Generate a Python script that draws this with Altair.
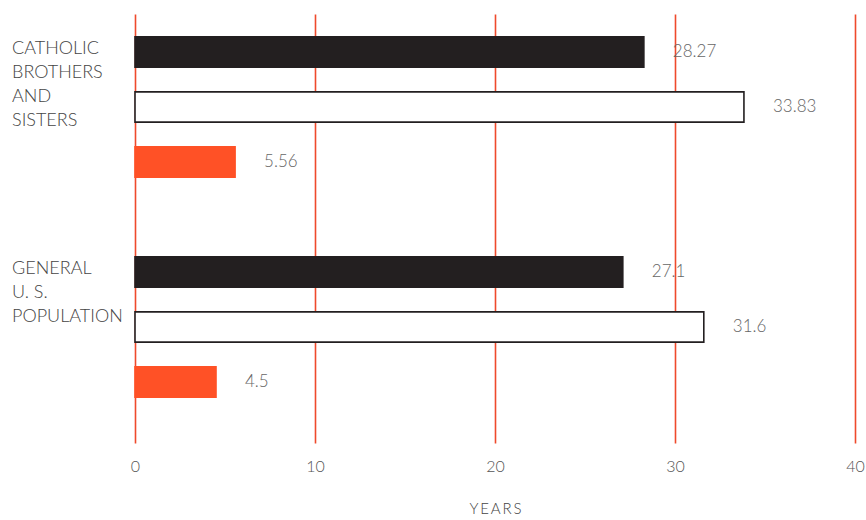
import altair as alt
import pandas as pd

groups = ["CATHOLIC BROTHERS AND SISTERS", "GENERAL U. S. POPULATION"]
group_text = ["CATHOLIC\nBROTHERS\nAND\nSISTERS", "GENERAL\nU. S.\nPOPULATION"]
black_vals = [28.27, 27.1]
white_vals = [33.83, 31.6]
red_vals = [5.56, 4.5]
x_ticks = [0, 10, 20, 30, 40]
kinds = ["black", "white", "red"]

rows = []
for i, g in enumerate(groups):
    for kind, vals in zip(kinds, [black_vals, white_vals, red_vals]):
        rows.append({"group": g, "kind": kind, "row": f"{i}-{kind}",
                     "value": vals[i], "label": str(vals[i])})
bars_df = pd.DataFrame(rows)
groups_df = pd.DataFrame({"row": [f"{i}-black" for i in range(len(groups))],
                          "text": group_text})

row_domain = ["0-black", "0-white", "0-red", "gap", "1-black", "1-white", "1-red"]

FONT = "Lato"
GRID = "#ef4a2c"

y_scale = alt.Scale(domain=row_domain, paddingInner=0.45, paddingOuter=0.625, align=0.333)
x_scale = alt.Scale(domain=[0, 40], nice=False)

x_axis = alt.Axis(values=x_ticks, grid=True, gridColor=GRID, gridWidth=1.6, gridOpacity=1,
                  domain=False, ticks=False, labelFlush=False, labelFont=FONT, labelFontSize=16,
                  labelFontWeight=300, labelColor="#555555", labelPadding=15,
                  title="Y\u2009E\u2009A\u2009R\u2009S",
                  titleFont=FONT, titleFontSize=15, titleFontWeight=300,
                  titleColor="#444444", titlePadding=27)

bars = alt.Chart(bars_df).mark_bar(strokeWidth=1.6).encode(
    x=alt.X("value:Q", scale=x_scale, axis=x_axis),
    y=alt.Y("row:N", scale=y_scale, axis=None),
    fill=alt.Fill("kind:N", scale=alt.Scale(domain=kinds, range=["#231f20", "#ffffff", "#ff5126"]), legend=None),
    stroke=alt.Stroke("kind:N", scale=alt.Scale(domain=kinds, range=["#231f20", "#231f20", "#ff5126"]), legend=None),
)

values = alt.Chart(bars_df).mark_text(align="left", baseline="middle", dx=29,
                                      font=FONT, fontSize=17, fontWeight=300,
                                      color="#666666").encode(
    x=alt.X("value:Q", scale=x_scale),
    y=alt.Y("row:N", scale=y_scale),
    text="label:N",
)

group_labels = alt.Chart(groups_df).mark_text(align="left", baseline="top", dy=-12,
                                              lineBreak="\n", lineHeight=24,
                                              font=FONT, fontSize=18, fontWeight=300,
                                              color="#444444").encode(
    x=alt.value(-123),
    y=alt.Y("row:N", scale=y_scale),
    text="text:N",
)

chart = alt.layer(bars, values, group_labels).properties(
    width=720, height=429,
    autosize=alt.AutoSizeParams(type="none"),
    padding={"left": 135, "top": 14, "right": 11, "bottom": 77},
).configure(background="white", view=alt.ViewConfig(stroke=None))

chart.save("out.html", embed_options={"renderer": "svg", "actions": False})
